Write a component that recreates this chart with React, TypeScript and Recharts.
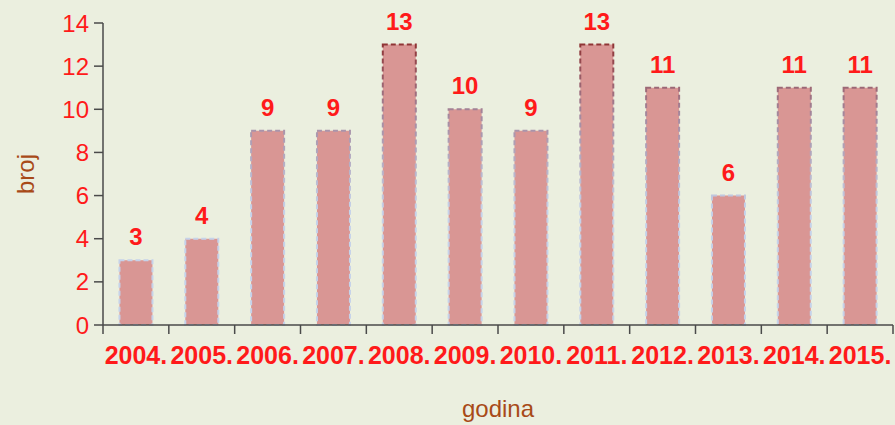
import React from 'react';
import { BarChart, Bar, XAxis, YAxis, LabelList, Label } from 'recharts';

const years = ['2004.', '2005.', '2006.', '2007.', '2008.', '2009.', '2010.', '2011.', '2012.', '2013.', '2014.', '2015.'];
const counts = [3, 4, 9, 9, 13, 10, 9, 13, 11, 6, 11, 11];
const yTicks = [0, 2, 4, 6, 8, 10, 12, 14];

const data = years.map((y, i) => ({ year: y, broj: counts[i] }));

const FONT = '"Liberation Sans", Arial, sans-serif';
const RED = '#FF1A1A';
const BROWN = '#A84A18';
const AXIS = '#4a4a4a';

const XTick = (props: any) => {
  const { x, y, payload, index, visibleTicksCount } = props;
  const half = payload && payload.offset ? payload.offset : 790 / 24;
  const y0 = y - 8;
  return (
    <g>
      <line x1={x - half} x2={x - half} y1={y0} y2={y0 + 9} stroke={AXIS} strokeWidth={1.5} />
      {index === visibleTicksCount - 1 && (
        <line x1={x + half} x2={x + half} y1={y0} y2={y0 + 9} stroke={AXIS} strokeWidth={1.5} />
      )}
      <text x={x} y={y0 + 39} textAnchor="middle" fill={RED} fontFamily={FONT} fontWeight="bold" fontSize={25}>
        {payload.value}
      </text>
    </g>
  );
};

const YTitle = (props: any) => {
  const vb = props.viewBox || { x: 0, y: 23, width: 103, height: 302 };
  const cx = vb.x + 25;
  const cy = vb.y + vb.height / 2;
  return (
    <text
      x={cx}
      y={cy}
      transform={`rotate(-90 ${cx} ${cy})`}
      textAnchor="middle"
      dominantBaseline="central"
      fill={BROWN}
      fontFamily={FONT}
      fontSize={24}
    >
      broj
    </text>
  );
};

export default function App() {
  return (
    <div style={{ position: 'absolute', left: 0, top: 0, width: 895, height: 425, background: '#EBEFDF' }}>
      <BarChart
        width={895}
        height={425}
        data={data}
        margin={{ top: 23, right: 2, bottom: 40, left: 0 }}
        barCategoryGap="25%"
      >
        <defs>
          <linearGradient id="strokeGrad" gradientUnits="userSpaceOnUse" x1="0" y1="40" x2="0" y2="210">
            <stop offset="0%" stopColor="#8E2F2F" />
            <stop offset="45%" stopColor="#A58AA0" />
            <stop offset="100%" stopColor="#C5D2EA" />
          </linearGradient>
        </defs>
        <XAxis
          dataKey="year"
          tickLine={false}
          axisLine={{ stroke: AXIS, strokeWidth: 1.5 }}
          tick={<XTick />}
          height={60}
          interval={0}
        >
          <Label
            value="godina"
            position="insideBottom"
            offset={-32}
            fill={BROWN}
            fontFamily={FONT}
            fontSize={24}
          />
        </XAxis>
        <YAxis
          domain={[0, 14]}
          ticks={yTicks}
          width={103}
          tickSize={9}
          tickMargin={5}
          tickLine={{ stroke: AXIS, strokeWidth: 1.5 }}
          axisLine={{ stroke: AXIS, strokeWidth: 1.5 }}
          tick={{ fill: RED, fontFamily: FONT, fontSize: 24 }}
          interval={0}
        >
          <Label content={<YTitle />} />
        </YAxis>
        <Bar
          dataKey="broj"
          fill="#D99694"
          stroke="url(#strokeGrad)"
          strokeWidth={2}
          strokeDasharray="5 3"
          isAnimationActive={false}
        >
          <LabelList
            dataKey="broj"
            position="top"
            offset={15}
            fill={RED}
            fontFamily={FONT}
            fontWeight="bold"
            fontSize={24}
          />
        </Bar>
      </BarChart>
    </div>
  );
}
